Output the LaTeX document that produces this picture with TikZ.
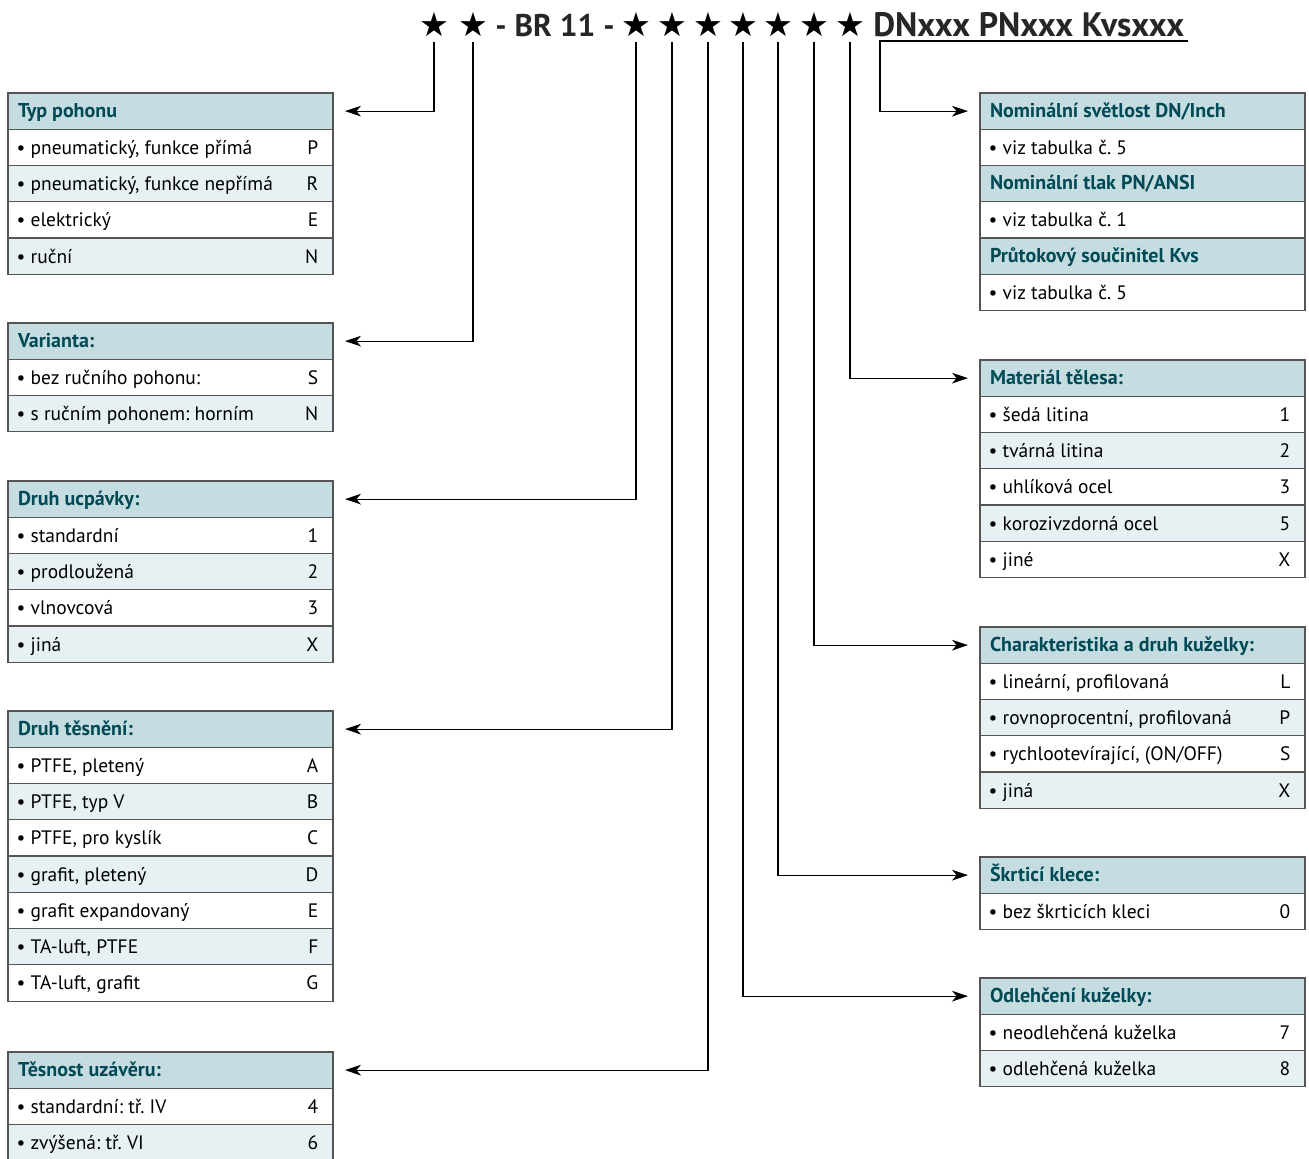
\documentclass[tikz,border=0pt]{standalone}
\usepackage{fontspec}
\setmainfont{PT Sans}
\newfontfamily\starfont{DejaVu Sans}
\usetikzlibrary{positioning,arrows.meta}
\frenchspacing

\definecolor{headfill}{RGB}{197,220,224}
\definecolor{rowtint}{RGB}{231,240,242}
\definecolor{headtext}{RGB}{0,74,86}
\definecolor{rulegray}{RGB}{85,85,85}

\tikzset{
  headbox/.style={draw=rulegray, line width=0.9pt, fill=headfill, anchor=north west,
    inner sep=0pt, outer sep=0pt, minimum height=27.2pt, minimum width=243.75pt,
    text height=11.5pt, text depth=2.7pt,
    font=\fontsize{15}{17}\selectfont\bfseries, text=headtext},
  rowbox/.style={draw=rulegray, line width=0.9pt, inner sep=0pt, outer sep=0pt,
    minimum height=27.2pt, minimum width=243.75pt, text height=12pt, text depth=1.8pt,
    font=\fontsize{14.6}{16}\selectfont},
  codestar/.style={anchor=base, inner sep=0pt, outer ysep=4.5pt, text depth=0pt,
    font=\starfont\fontsize{25}{27}\selectfont},
  titletext/.style={inner sep=0pt, font=\fontsize{25.4}{28}\selectfont\bfseries, text=black!85},
  conn/.style={-{Stealth[length=12pt,width=8pt,inset=3.5pt]}, line width=0.9pt, shorten >=9pt}
}

% one table: name, placement, title, rows (text/code)
\newcommand\infotab[4]{%
  \node[headbox, #2] (#1-0) {\makebox[243.75pt][l]{\hspace{7.5pt}#3}};
  \foreach \txt/\code [count=\i, remember=\i as \j (initially 0)] in {#4} {
    \ifodd\i\def\rowfill{white}\else\def\rowfill{rowtint}\fi
    \node[rowbox, fill=\rowfill, below=0pt of #1-\j] (#1-\i)
      {\makebox[243.75pt][l]{\hspace{6.5pt}\textbullet\ \txt\hfill\code\hspace{11pt}}};
  }
}

\begin{document}
\begin{tikzpicture}[x=0.75pt, y=-0.75pt]
\useasboundingbox (0,0) rectangle (1309,1158);

% type code
\foreach \x [count=\i] in {434,473,636,672,708,743,778,814,850}
  \node[codestar] (s\i) at (\x,36) {★};
\node[titletext, anchor=base, font=\fontsize{23.5}{28}\selectfont\bfseries] (br) at (555,36) {- BR 11 -};
\node[titletext, anchor=base west] (dpk) at (873,36) {DNxxx PNxxx Kvsxxx};
\coordinate (ul) at (880,41);
\coordinate (ulend) at (1188,41);

% left tables
\infotab{typ}{at={(8,93)}}{Typ pohonu}{{pneumatický, funkce přímá}/P,{pneumatický, funkce nepřímá}/R,elektrický/E,ruční/N}
\infotab{var}{at={(8,323)}}{Varianta:}{bez ručního pohonu:/S,s ručním pohonem: horním/N}
\infotab{ucp}{at={(8,481)}}{Druh ucpávky:}{standardní/1,prodloužená/2,vlnovcová/3,jiná/X}
\infotab{tes}{at={(8,711)}}{Druh těsnění:}{{PTFE, pletený}/A,{PTFE, typ V}/B,{PTFE, pro kyslík}/C,{grafit, pletený}/D,grafit expandovaný/E,{TA-luft, PTFE}/F,{TA-luft, grafit}/G}
\infotab{tsn}{at={(8,1052)}}{Těsnost uzávěru:}{standardní: tř. IV/4,zvýšená: tř. VI/6}

% right tables
\infotab{dn}{at={(980,93)}}{Nominální světlost DN/Inch}{viz tabulka č. 5/{}}
\infotab{pn}{below=0pt of dn-1}{Nominální tlak PN/ANSI}{viz tabulka č. 1/{}}
\infotab{kvs}{below=0pt of pn-1}{Průtokový součinitel Kvs}{viz tabulka č. 5/{}}
\infotab{mat}{at={(980,360)}}{Materiál tělesa:}{šedá litina/1,tvárná litina/2,uhlíková ocel/3,korozivzdorná ocel/5,jiné/X}
\infotab{kuz}{at={(980,627)}}{Charakteristika a druh kuželky:}{{lineární, profilovaná}/L,{rovnoprocentní, profilovaná}/P,{rychlootevírající, (ON/OFF)}/S,jiná/X}
\infotab{klc}{at={(980,857)}}{Škrticí klece:}{bez škrticích kleci/0}
\infotab{odl}{at={(980,978)}}{Odlehčení kuželky:}{neodlehčená kuželka/7,odlehčená kuželka/8}

% connectors
\foreach \i/\t in {1/typ,2/var,3/ucp,4/tes,5/tsn}
  \draw[conn] (s\i) |- (\t-0.east);
\foreach \i/\t in {6/odl,7/klc,8/kuz,9/mat}
  \draw[conn] (s\i) |- (\t-0.west);
\draw[conn] (ulend) -- (ul) |- (dn-0.west);
\end{tikzpicture}
\end{document}
